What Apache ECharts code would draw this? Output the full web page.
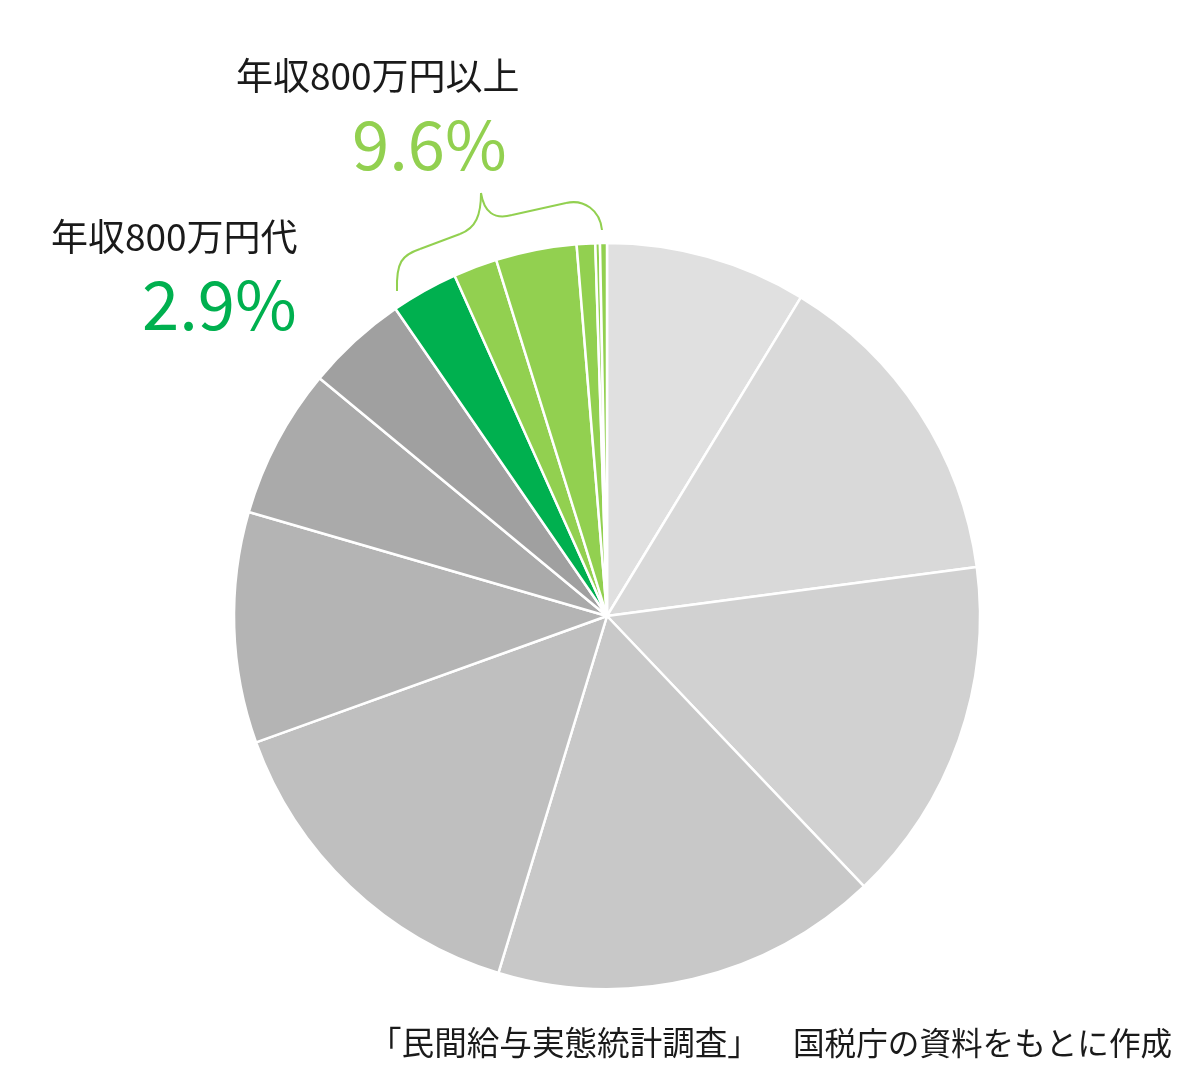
<!DOCTYPE html>
<html>
<head>
<meta charset="utf-8">
<script src="https://cdn.jsdelivr.net/npm/echarts@6/dist/echarts.min.js"></script>
<style>
html,body{margin:0;padding:0;background:#fff;}
#chart{width:1200px;height:1085px;}
</style>
</head>
<body>
<div id="chart"></div>
<script>
// Income brackets (万円) and share of workers (%)
var categories = ['100万円以下','100〜200万円','200〜300万円','300〜400万円','400〜500万円','500〜600万円','600〜700万円','700〜800万円','800〜900万円','900〜1000万円','1000〜1500万円','1500〜2000万円','2000〜2500万円','2500万円超'];
var values = [8.7, 14.2, 15.0, 16.8, 14.8, 10.0, 6.5, 4.4, 2.9, 1.9, 3.5, 0.8, 0.2, 0.3];
var labelTexts = ['年収800万円以上', '9.6%', '年収800万円代', '2.9%'];
var sourceTexts = ['「民間給与実態統計調査」', '国税庁の資料をもとに作成'];

var sliceColors = ['#e0e0e0','#d9d9d9','#d1d1d1','#c8c8c8','#bfbfbf','#b4b4b4','#aaaaaa','#a0a0a0','#00b04f','#92d050','#92d050','#92d050','#92d050','#92d050'];
var FONT = '"Noto Sans CJK JP", "Noto Sans", sans-serif';
var BRACE = '#92d050';

function bez(p) {
  return {type: 'bezierCurve', shape: {x1: p[0], y1: p[1], cpx1: p[2], cpy1: p[3], cpx2: p[4], cpy2: p[5], x2: p[6], y2: p[7]},
          style: {fill: null, stroke: BRACE, lineWidth: 2}};
}
function seg(p) {
  return {type: 'line', shape: {x1: p[0], y1: p[1], x2: p[2], y2: p[3]}, style: {stroke: BRACE, lineWidth: 2}};
}

var chart = echarts.init(document.getElementById('chart'), null, {renderer: 'canvas'});
chart.setOption({
  animation: false,
  backgroundColor: '#ffffff',
  series: [{
    type: 'pie',
    center: [607, 616],
    radius: [0, 373],
    startAngle: 90,
    clockwise: true,
    label: {show: false},
    labelLine: {show: false},
    emphasis: {disabled: true},
    itemStyle: {borderColor: '#ffffff', borderWidth: 2.5},
    data: categories.map(function (c, i) {
      return {name: c, value: values[i], itemStyle: {color: sliceColors[i]}};
    })
  }],
  graphic: [
    {type: 'text', left: 236, top: 57, style: {text: labelTexts[0], font: '37px ' + FONT, fill: '#1a1a1a'}},
    {type: 'text', left: 352, top: 111, style: {text: labelTexts[1], font: '67px ' + FONT, fill: '#92d050'}},
    {type: 'text', left: 51, top: 218, style: {text: labelTexts[2], font: '37px ' + FONT, fill: '#1a1a1a'}},
    {type: 'text', left: 142, top: 271, style: {text: labelTexts[3], font: '67px ' + FONT, fill: '#00b04f'}},
    {type: 'text', left: 369, top: 1026, style: {text: sourceTexts[0], font: '32.6px ' + FONT, fill: '#1a1a1a'}},
    {type: 'text', left: 793, top: 1027, style: {text: sourceTexts[1], font: '31.6px ' + FONT, fill: '#1a1a1a'}},
    bez([397, 291, 396, 262, 402, 255, 420, 249]),
    seg([420, 249, 460, 234]),
    bez([460, 234, 476, 228, 481, 215, 481, 193]),
    bez([481, 193, 484, 212, 494, 220, 512, 215]),
    seg([512, 215, 566, 203]),
    bez([566, 203, 584, 199, 600, 210, 602, 230])
  ]
});
</script>
</body>
</html>
